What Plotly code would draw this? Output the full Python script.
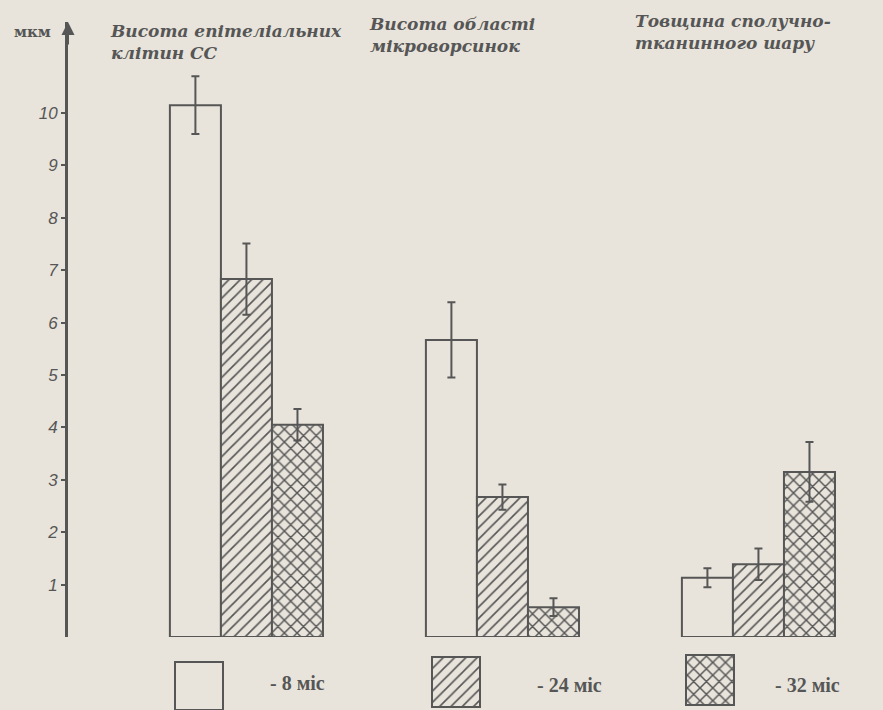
import plotly.graph_objects as go

# --- data -------------------------------------------------------------
categories = [
    "Висота епітеліальних клітин СС",
    "Висота області мікроворсинок",
    "Товщина сполучно-тканинного шару",
]
title_lines = [
    ["Висота епітеліальних", "клітин СС"],
    ["Висота області", "мікроворсинок"],
    ["Товщина сполучно-", "тканинного шару"],
]
series_names = ["- 8 міс", "- 24 міс", "- 32 міс"]
values_8 = [10.15, 5.67, 1.13]
values_24 = [6.83, 2.67, 1.39]
values_32 = [4.05, 0.57, 3.15]
err_8 = [0.55, 0.72, 0.18]
err_24 = [0.68, 0.24, 0.30]
err_32 = [0.30, 0.17, 0.57]
y_ticks = [1, 2, 3, 4, 5, 6, 7, 8, 9, 10]

# --- styling ----------------------------------------------------------
W, H = 883, 710
PAPER = "#e8e4db"
INK = "#565656"
TITLE_FONT = "DejaVu Serif"
LABEL_FONT = "Liberation Serif"


def fx(px):
    return px / W


def fy(py):
    return 1 - py / H


patterns = [
    dict(shape="", fgcolor=INK, bgcolor=PAPER),
    dict(shape="/", fgcolor=INK, bgcolor=PAPER, size=8, solidity=0.2,
         fillmode="overlay", fgopacity=1),
    dict(shape="x", fgcolor=INK, bgcolor=PAPER, size=9, solidity=0.3,
         fillmode="overlay", fgopacity=1),
]
all_values = [values_8, values_24, values_32]
all_errors = [err_8, err_24, err_32]

fig = go.Figure()

for name, vals, errs, pat in zip(series_names, all_values, all_errors, patterns):
    fig.add_trace(go.Bar(
        x=categories, y=vals, name=name, showlegend=False,
        marker=dict(color=PAPER, line=dict(color=INK, width=2), pattern=pat),
        error_y=dict(type="data", array=errs, color=INK, thickness=2, width=4),
    ))

# key swatches below the chart, drawn on a pixel-scaled helper axis pair
key_centers = [199, 456, 710]
key_bottoms = [0, 3, 5]
key_tops = [48, 53, 55]
for cx, b, t, pat in zip(key_centers, key_bottoms, key_tops, patterns):
    fig.add_trace(go.Bar(
        x=[cx], y=[t - b], base=[b], width=[48], offset=-24,
        xaxis="x2", yaxis="y2", showlegend=False, hoverinfo="skip",
        marker=dict(color=PAPER, line=dict(color=INK, width=2), pattern=pat),
    ))

annotations = []
# group titles
title_pos = [(108, 42), (367, 35), (633, 32)]
for lines, (x0, yc) in zip(title_lines, title_pos):
    annotations.append(dict(
        xref="paper", yref="paper", x=fx(x0), y=fy(yc),
        xanchor="left", yanchor="middle", align="left", showarrow=False,
        text="<br>".join(lines),
        font=dict(family=TITLE_FONT, size=17, color=INK, weight="bold", style="italic"),
    ))
# key labels
key_label_pos = [(268, 683), (535, 685), (773, 685)]
for name, (x0, yc) in zip(series_names, key_label_pos):
    annotations.append(dict(
        xref="paper", yref="paper", x=fx(x0), y=fy(yc),
        xanchor="left", yanchor="middle", showarrow=False, text=name,
        font=dict(family=LABEL_FONT, size=20, color=INK, weight="bold"),
    ))
# unit label
annotations.append(dict(
    xref="paper", yref="paper", x=fx(32), y=fy(32),
    xanchor="center", yanchor="middle", showarrow=False, text="мкм",
    font=dict(family="DejaVu Serif", size=15, color=INK, weight="bold"),
))
# arrow head on the value axis
annotations.append(dict(
    xref="x domain", yref="y domain", x=0, y=1, ax=0, ay=24,
    text="", showarrow=True, arrowhead=2, arrowsize=1.3, arrowwidth=2,
    arrowcolor=INK,
))

fig.update_layout(
    width=W, height=H,
    margin=dict(l=0, r=0, t=0, b=0),
    paper_bgcolor=PAPER, plot_bgcolor=PAPER,
    barmode="group", bargap=0.402, bargroupgap=0,
    xaxis=dict(
        domain=[fx(68), fx(878)], range=[-0.697, 2.467],
        showline=True, linecolor=INK, linewidth=2.5,
        showticklabels=False, ticks="", showgrid=False, zeroline=False,
        anchor="y",
    ),
    yaxis=dict(
        domain=[fy(637), fy(22)], range=[0, 615 / 52.4],
        showline=True, linecolor=INK, linewidth=3,
        tickvals=y_ticks, ticks="outside", ticklen=4, tickwidth=1.5, tickcolor=INK,
        ticklabelstandoff=0,
        tickfont=dict(family="Liberation Sans", size=17, color=INK, style="italic"),
        showgrid=False, zeroline=False, anchor="x",
    ),
    xaxis2=dict(domain=[0, 1], range=[0, W], visible=False, anchor="y2"),
    yaxis2=dict(domain=[0, 73 / H], range=[0, 73], visible=False, anchor="x2"),
    annotations=annotations,
)

fig.write_html("out.html")
